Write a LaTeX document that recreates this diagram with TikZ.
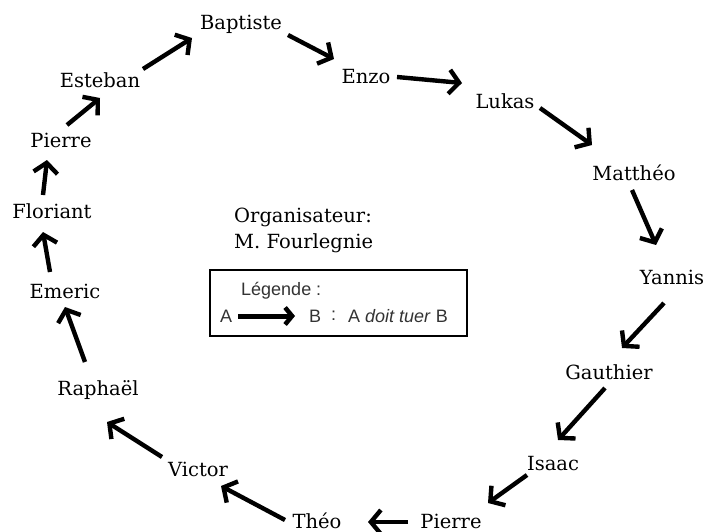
\documentclass[tikz,border=0pt]{standalone}
\usepackage{fontspec}
\setmainfont{DejaVu Serif}
\newfontfamily\legfont{Liberation Sans}
\usetikzlibrary{arrows.meta}
\begin{document}
\begin{tikzpicture}[x=1pt,y=-1pt,
  pname/.style={font=\fontsize{19.5}{26}\selectfont, inner sep=0pt},
  arr/.style={line width=4.4pt, -{Straight Barb[length=10pt,width=24pt,line width=4.4pt]}},
  legtext/.style={font=\legfont\fontsize{18}{20}\selectfont, text=black!80, inner sep=0pt, anchor=west},
  legbox/.style={draw, line width=2.8pt}]
\useasboundingbox (0,0) rectangle (709,532);
% names
\node[pname] (baptiste) at (241,24) {Baptiste};
\node[pname] (enzo) at (366,77) {Enzo};
\node[pname] (lukas) at (505,101) {Lukas};
\node[pname] (mattheo) at (634,173) {Matthéo};
\node[pname] (yannis) at (672,277) {Yannis};
\node[pname] (gauthier) at (609,372) {Gauthier};
\node[pname] (isaac) at (553,464) {Isaac};
\node[pname] (pierreB) at (451,521) {Pierre};
\node[pname] (theo) at (317,521) {Théo};
\node[pname] (victor) at (198,469) {Victor};
\node[pname] (raphael) at (98,390) {Raphaël};
\node[pname] (emeric) at (65,291) {Emeric};
\node[pname] (floriant) at (52,211) {Floriant};
\node[pname] (pierreL) at (61,140) {Pierre};
\node[pname] (esteban) at (100,80) {Esteban};
% organiser
\node[pname, anchor=west, align=left] (orga) at (234,230) {Organisateur:\\M. Fourlegnie};
% arrows
\draw[arr] ([shift={(6,-15)}]pierreL.center) -- ([shift={(0,18)}]esteban.center);
\draw[arr] ([shift={(43,-11)}]esteban.center) -- ([shift={(-49,14)}]baptiste.center);
\draw[arr] ([shift={(47,11)}]baptiste.center) -- ([shift={(-32,-18)}]enzo.center);
\draw[arr] ([shift={(31,0)}]enzo.center) -- ([shift={(-43,-18)}]lukas.center);
\draw[arr] ([shift={(35,7)}]lukas.center) -- ([shift={(-42,-28)}]mattheo.center);
\draw[arr] ([shift={(-2,17)}]mattheo.center) -- ([shift={(-16,-32)}]yannis.center);
\draw[arr] ([shift={(-8,26)}]yannis.center) -- ([shift={(13,-24)}]gauthier.center);
\draw[arr] ([shift={(-4,16)}]gauthier.center) -- ([shift={(5,-24)}]isaac.center);
\draw[arr] ([shift={(-26,11)}]isaac.center) -- ([shift={(37,-18)}]pierreB.center);
\draw[arr] ([shift={(-43,1)}]pierreB.center) -- ([shift={(51,1)}]theo.center);
\draw[arr] ([shift={(-32,-1)}]theo.center) -- ([shift={(23,17)}]victor.center);
\draw[arr] ([shift={(-36,-12)}]victor.center) -- ([shift={(9,32)}]raphael.center);
\draw[arr] ([shift={(-13,-28)}]raphael.center) -- ([shift={(0,16)}]emeric.center);
\draw[arr] ([shift={(-15,-19)}]emeric.center) -- ([shift={(-9,21)}]floriant.center);
\draw[arr] ([shift={(-9,-16)}]floriant.center) -- ([shift={(-14,20)}]pierreL.center);
% legend
\node[legbox, minimum width=257pt, minimum height=66pt, inner sep=0pt] (legend) at (338.5,303) {};
\node[legtext] (leg) at (241,291) {Légende :};
\node[legtext] (la) at (220,316) {A};
\node[legtext] (lb) at (309,316) {B};
\node[legtext] (lcolon) at (331,316) {:};
\node[legtext] (ldef) at (348,316) {A \textit{doit tuer} B};
\draw[line width=5pt, -{Straight Barb[length=7pt,width=17pt,line width=4.5pt]}] ([xshift=6pt]la.east) -- ([xshift=-14pt]lb.west);
\end{tikzpicture}
\end{document}
